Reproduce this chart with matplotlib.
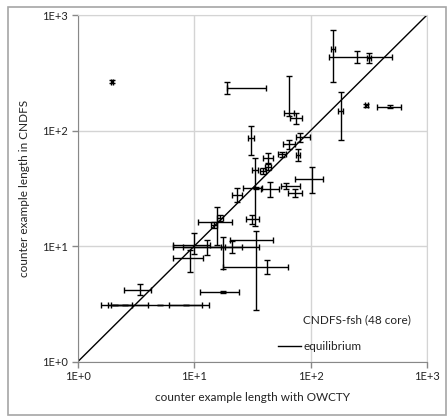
import matplotlib.pyplot as plt
import numpy as np
from matplotlib.lines import Line2D
from matplotlib.patches import Rectangle

plt.rcParams['font.family'] = ['Lato', 'DejaVu Sans']

# counter example lengths: OWCTY (x) vs CNDFS-fsh on 48 cores (y), with min/max ranges
owcty = [1.95, 19.1, 156, 251, 318, 300, 482, 181.5, 65.2, 74.9, 30.7, 33.3, 33.9, 42.8,
         56.8, 65.2, 81.1, 77.9, 38.7, 43.3, 23.2, 44.8, 61.1, 73.4, 102.8, 31.5, 15.7,
         14.8, 16.6, 33.6, 21.1, 12.8, 17.5, 9.94, 9.18, 41.9, 17.65, 3.41, 2.08, 2.54,
         8.48, 5.07]
owcty_min = [1.91, 19.1, 150, 144, 305, 291, 370, 171, 59.1, 66.5, 28.9, 31.3, 26.2, 39.0,
             52.4, 57.9, 74.9, 74.9, 36.5, 40.8, 21.0, 37.5, 55.7, 64.3, 73.4, 27.7, 10.8,
             13.9, 15.8, 20.3, 8.0, 6.56, 16.9, 6.56, 6.56, 17.5, 11.2, 2.49, 1.57, 1.82,
             6.10, 1.92]
owcty_max = [1.99, 41.4, 162, 501, 331, 308, 596, 191, 72.0, 84.4, 32.6, 35.3, 38.2, 47.5,
             61.4, 73.4, 98.8, 81.1, 41.1, 45.9, 25.6, 53.5, 81.1, 83.8, 127.8, 36.0, 21.1,
             15.6, 17.5, 47.5, 36.0, 25.7, 18.2, 13.6, 11.9, 64.3, 24.4, 4.24, 2.91, 3.98,
             11.7, 13.5]
cndfs = [265, 233, 508, 433, 424, 166, 161, 147.5, 141.8, 128.3, 86.1, 45.5, 31.8, 57.4,
         62.6, 76.4, 87.9, 61.4, 44.9, 48.6, 27.6, 31.0, 33.1, 28.9, 38.0, 17.0, 16.1,
         15.2, 17.5, 11.3, 9.8, 9.8, 9.8, 10.2, 7.83, 6.58, 4.0, 4.16, 3.08, 3.08,
         3.08, 3.08]
cndfs_min = [257, 207, 263, 384, 384, 161, 157, 82.8, 133.5, 113.8, 61.4, 14.9, 31.2, 52.3,
             59.0, 69.2, 79.5, 54.4, 42.3, 45.8, 24.2, 26.4, 31.0, 26.7, 28.8, 15.5, 10.2,
             14.4, 16.6, 2.79, 8.7, 8.36, 6.32, 8.52, 5.96, 5.72, 3.92, 3.77, 3.08, 3.08,
             3.08, 3.08]
cndfs_max = [273, 263, 742, 488, 469, 171, 166, 215, 296.5, 141.8, 109.4, 57.8, 32.4, 63.9,
             65.2, 82.8, 95.1, 69.2, 47.6, 51.6, 31.8, 35.6, 35.3, 31.0, 48.3, 18.6, 21.8,
             16.0, 18.4, 13.5, 11.05, 11.3, 11.96, 12.96, 9.23, 7.56, 4.08, 4.66, 3.08, 3.08,
             3.08, 3.08]

ticks = [1, 10, 100, 1000]
tick_labels = ['1E+0', '1E+1', '1E+2', '1E+3']

x = np.array(owcty)
y = np.array(cndfs)
xerr = [x - np.array(owcty_min), np.array(owcty_max) - x]
yerr = [y - np.array(cndfs_min), np.array(cndfs_max) - y]

fig = plt.figure(figsize=(4.47, 4.17), dpi=100)
ax = fig.add_axes([78 / 447, 1 - 361.5 / 417, 349 / 447, 346.5 / 417])

ax.set_xscale('log')
ax.set_yscale('log')
ax.set_xlim(1, 1000)
ax.set_ylim(1, 1000)

ax.grid(True, color='#d4d4d4', linewidth=1)
ax.set_axisbelow(True)

ax.errorbar(x, y, xerr=xerr, yerr=yerr, fmt='none', ecolor='black',
            elinewidth=1, capsize=2.5, capthick=1)
eq, = ax.plot([1, 1000], [1, 1000], color='black', linewidth=1)

ax.set_xticks(ticks)
ax.set_xticklabels(tick_labels)
ax.set_yticks(ticks)
ax.set_yticklabels(tick_labels)
ax.minorticks_off()
ax.tick_params(direction='out', length=4, width=1, color='#888888',
               labelsize=8, labelcolor='#222222', pad=3)

for side in ['left', 'bottom']:
    ax.spines[side].set_color('#888888')
for side in ['top', 'right']:
    ax.spines[side].set_color('#d4d4d4')

ax.set_xlabel('counter example length with OWCTY', fontsize=8.5, color='#222222', labelpad=7)
ax.set_ylabel('counter example length in CNDFS', fontsize=8.5, color='#222222', labelpad=9)

ax.legend([Line2D([], [], linestyle='none'), eq],
          ['CNDFS-fsh (48 core)', 'equilibrium'],
          loc='lower left', bbox_to_anchor=(0.545, 0.0), frameon=False,
          fontsize=8.5, handlelength=2.0, handletextpad=0.15, labelspacing=1.3,
          borderpad=0.3, labelcolor='#222222')

fig.add_artist(Rectangle((8 / 447, 2 / 417), 438 / 447, 408 / 417,
                         transform=fig.transFigure, fill=False,
                         edgecolor='#a6a6a6', linewidth=1.2))

fig.savefig('out.png', dpi=100)
